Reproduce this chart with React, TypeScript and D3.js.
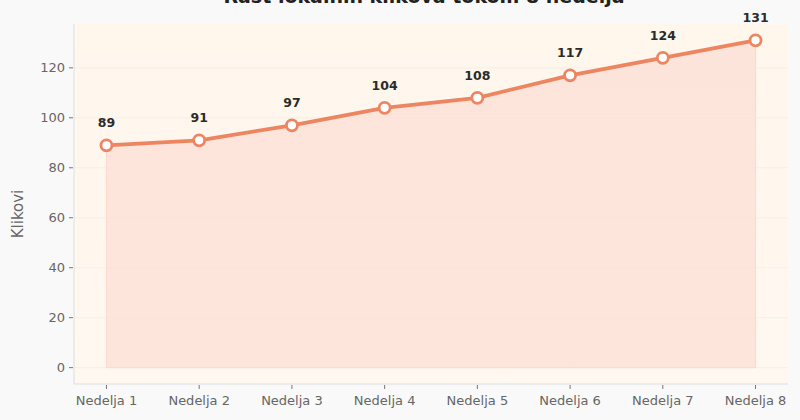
import React from "react";
import * as d3 from "d3";

// weekly click counts
const weeks = ["Nedelja 1", "Nedelja 2", "Nedelja 3", "Nedelja 4", "Nedelja 5", "Nedelja 6", "Nedelja 7", "Nedelja 8"];
const clicks = [89, 91, 97, 104, 108, 117, 124, 131];
const yTicks = [0, 20, 40, 60, 80, 100, 120];

const W = 800;
const H = 420;
const plot = { left: 74, right: 788, top: 24, bottom: 384 };

const FONT = "'DejaVu Sans', sans-serif";
const LINE = "#ec8560";

export default function App() {
  const x = d3
    .scalePoint<string>()
    .domain(weeks)
    .range([plot.left, plot.right])
    .padding(0.35);

  const yPad = 131 * 0.05;
  const y = d3
    .scaleLinear()
    .domain([-yPad, 131 + yPad])
    .range([plot.bottom, plot.top]);

  const pts = weeks.map((w, i) => ({ w, v: clicks[i] }));

  const line = d3
    .line<{ w: string; v: number }>()
    .x((d) => x(d.w)!)
    .y((d) => y(d.v));
  const area = d3
    .area<{ w: string; v: number }>()
    .x((d) => x(d.w)!)
    .y0(y(0))
    .y1((d) => y(d.v));

  return (
    <svg width={W} height={H} style={{ position: "absolute", left: 0, top: 0, fontFamily: FONT }}>
      <rect x={0} y={0} width={W} height={H} fill="#f9f9f9" />
      <defs>
        <linearGradient id="bg" x1="0" y1="0" x2="0" y2="1">
          <stop offset="0%" stopColor="#fff6ec" />
          <stop offset="100%" stopColor="#fff8f0" />
        </linearGradient>
      </defs>
      {/* axes background */}
      <rect x={plot.left} y={plot.top} width={plot.right - plot.left} height={plot.bottom - plot.top} fill="url(#bg)" />

      {/* grid */}
      {yTicks.map((t) => (
        <line key={t} x1={plot.left} x2={plot.right} y1={y(t)} y2={y(t)} stroke="#f5ede5" strokeWidth={0.8} />
      ))}

      {/* area + line */}
      <path d={area(pts)!} fill="#fde2d8" fillOpacity={0.9} stroke="#f9d6c8" strokeWidth={0.8} />
      <path d={line(pts)!} fill="none" stroke={LINE} strokeWidth={3.8} strokeLinejoin="round" />
      {pts.map((d) => (
        <circle key={d.w} cx={x(d.w)} cy={y(d.v)} r={5.5} fill="#ffffff" stroke={LINE} strokeWidth={2.8} />
      ))}

      {/* value labels */}
      {pts.map((d) => (
        <text
          key={d.w}
          x={x(d.w)}
          y={y(d.v) - 18}
          textAnchor="middle"
          fontSize={12.5}
          fontWeight="bold"
          fill="#2b2b2b"
        >
          {d.v}
        </text>
      ))}

      {/* spines */}
      <line x1={plot.left} x2={plot.left} y1={plot.top} y2={plot.bottom} stroke="#dddddd" strokeWidth={1} />
      <line x1={plot.left} x2={plot.right} y1={plot.bottom} y2={plot.bottom} stroke="#dddddd" strokeWidth={1} />

      {/* y ticks */}
      {yTicks.map((t) => (
        <g key={t} transform={`translate(${plot.left},${y(t)})`}>
          <line x1={-5} x2={-1} stroke="#777" strokeWidth={1} />
          <text x={-9} dy="0.35em" textAnchor="end" fontSize={13} fill="#666">
            {t}
          </text>
        </g>
      ))}

      {/* x ticks */}
      {weeks.map((w) => (
        <g key={w} transform={`translate(${x(w)},${plot.bottom})`}>
          <line y1={1} y2={5} stroke="#777" strokeWidth={1} />
          <text y={21} textAnchor="middle" fontSize={13} fill="#666">
            {w}
          </text>
        </g>
      ))}

      {/* y label */}
      <text
        transform={`translate(23,${(plot.top + plot.bottom) / 2 + 10}) rotate(-90)`}
        textAnchor="middle"
        fontSize={15}
        fill="#666"
      >
        Klikovi
      </text>

      {/* title (clipped at top, as in the reference) */}
      <text x={424} y={3} textAnchor="middle" fontSize={19} fontWeight="bold" fill="#222">
        Rast lokalnih klikova tokom 8 nedelja
      </text>
    </svg>
  );
}
